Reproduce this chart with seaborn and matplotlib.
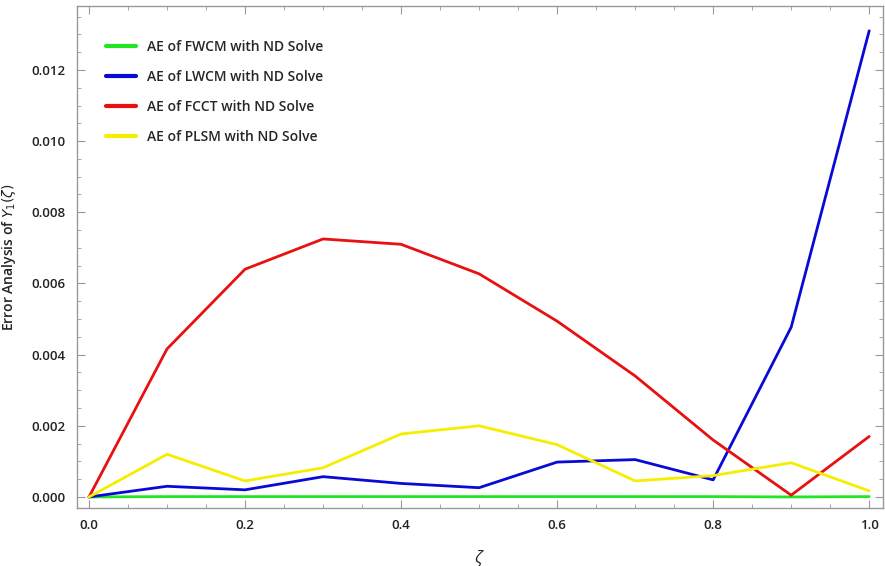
import numpy as np
import pandas as pd
import matplotlib
matplotlib.use("Agg")
import matplotlib.pyplot as plt
import seaborn as sns
from matplotlib.ticker import MultipleLocator

# data
zeta = [0.0, 0.1, 0.2, 0.3, 0.4, 0.5, 0.6, 0.7, 0.8, 0.9, 1.0]
ae_fwcm = [0.0, 0.00001, 0.00001, 0.00001, 0.00001, 0.00001, 0.00001, 0.00001, 0.00001, 0.0, 0.00001]
ae_lwcm = [0.0, 0.00030, 0.00020, 0.00057, 0.00038, 0.00026, 0.00098, 0.00105, 0.00048, 0.00477, 0.01310]
ae_fcct = [0.0, 0.00416, 0.00640, 0.00725, 0.00710, 0.00627, 0.00494, 0.00340, 0.00160, 0.00005, 0.00170]
ae_plsm = [0.0, 0.00120, 0.00045, 0.00082, 0.00177, 0.00200, 0.00147, 0.00045, 0.00060, 0.00096, 0.00017]

labels = ["AE of FWCM with ND Solve", "AE of LWCM with ND Solve",
          "AE of FCCT with ND Solve", "AE of PLSM with ND Solve"]
colors = ["#22e622", "#0a0ad6", "#e81010", "#f5ee00"]

long = pd.DataFrame({
    "zeta": zeta * 4,
    "AE": ae_fwcm + ae_lwcm + ae_fcct + ae_plsm,
    "method": np.repeat(labels, len(zeta)),
})

sns.set_style("ticks")
plt.rcParams["font.family"] = ["Open Sans", "DejaVu Sans"]

fig = plt.figure(figsize=(8.85, 5.66), dpi=100)
ax = fig.add_axes([0.087, 0.1025, 0.911, 0.8865])

sns.lineplot(data=long, x="zeta", y="AE", hue="method", hue_order=labels,
             palette=colors, linewidth=2.0, ax=ax, estimator=None, sort=False)

ax.set_xlim(-0.0154, 1.018)
ax.set_ylim(-0.00031, 0.01379)
ax.xaxis.set_major_locator(MultipleLocator(0.2))
ax.xaxis.set_minor_locator(MultipleLocator(0.05))
ax.yaxis.set_major_locator(MultipleLocator(0.002))
ax.yaxis.set_minor_locator(MultipleLocator(0.0005))
ax.xaxis.set_major_formatter(plt.FuncFormatter(lambda v, p: f"{v:.1f}"))
ax.yaxis.set_major_formatter(plt.FuncFormatter(lambda v, p: f"{v:.3f}"))

for s in ax.spines.values():
    s.set_color("#999999")
    s.set_linewidth(1.0)
ax.tick_params(which="both", direction="in", top=True, right=True,
               color="#999999", labelsize=9.5, labelcolor="#222222")
ax.tick_params(which="major", length=6, pad=8)
ax.tick_params(which="minor", length=3)
for t in ax.get_xticklabels() + ax.get_yticklabels():
    t.set_fontweight("semibold")

ax.set_xlabel("ζ", fontsize=12, style="italic", color="#222222")
ax.xaxis.set_label_coords(0.4975, -0.085)
ax.set_ylabel("Error Analysis of $Y_1(\\zeta)$", fontsize=10, labelpad=10,
              fontweight="semibold", color="#222222")

leg = ax.legend(loc="upper left", frameon=False, bbox_to_anchor=(0.02, 0.958),
                handlelength=2.2, labelspacing=1.15, prop={"size": 10, "weight": "semibold"})
for line in leg.get_lines():
    line.set_linewidth(3)

fig.savefig("out.png", dpi=100)
